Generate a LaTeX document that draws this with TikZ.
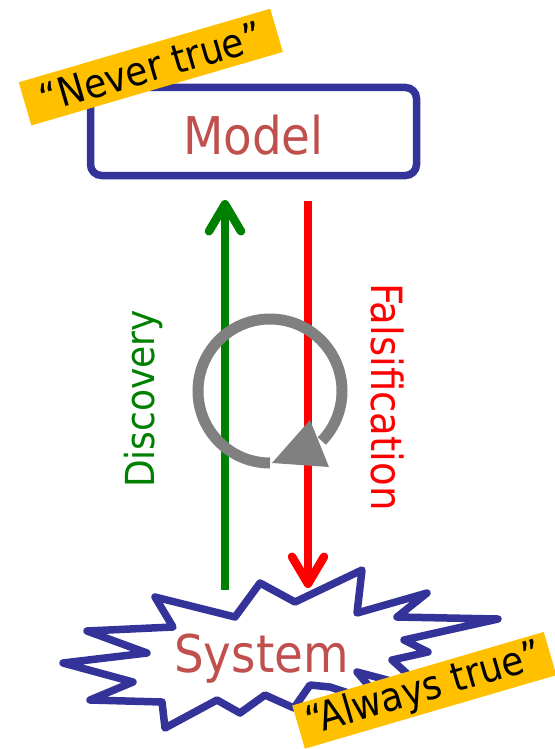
\documentclass[tikz,border=0pt]{standalone}
\usepackage{fontspec}
\setmainfont{DejaVu Sans Condensed}
\usetikzlibrary{arrows.meta}
\definecolor{boxblue}{HTML}{333399}
\definecolor{txtred}{HTML}{C0504D}
\definecolor{gold}{HTML}{FFC000}
\definecolor{dgreen}{HTML}{008000}
\definecolor{cgray}{HTML}{808080}
\begin{document}
\begin{tikzpicture}[x=1pt,y=-1pt,
  modelbox/.style={draw=boxblue,line width=7.5pt,rounded corners=11pt,minimum width=326pt,minimum height=88pt,text=txtred,font=\fontsize{52}{60}\selectfont,text height=45pt,text depth=0pt,inner sep=0pt},
  systext/.style={text=txtred,font=\fontsize{52}{60}\selectfont,inner sep=0pt,text height=38pt,text depth=0pt},
  tag/.style={fill=gold,minimum width=262pt,minimum height=45pt,inner sep=0pt,font=\fontsize{40}{48}\selectfont,rotate=16.3},
  flow/.style={line width=8.5pt,-{Straight Barb[length=27pt,width=32pt,round]}},
  burst/.style={draw=boxblue,line width=7.5pt,line join=round},
  sidelabel/.style={inner sep=0pt}]
\useasboundingbox (0,0) rectangle (554,749);
% model
\node[modelbox] (model) at (253.5,131.5) {Model};
% system starburst
\draw[burst] (155,597) -- (235,617) -- (260,583) -- (295,602) -- (362,570) -- (357,613) -- (427,593) -- (397,617) -- (498,619) -- (404,640) -- (428,652) -- (392,660) -- (425,690) -- (357,672) -- (385,705) -- (330,687) -- (310,685) -- (294,708) -- (265,695) -- (240,713) -- (217,700) -- (165,728) -- (162,702) -- (90,700) -- (133,682) -- (63,663) -- (147,653) -- (87,631) -- (173,627) -- cycle;
\node[systext] (system) at (261.5,653) {System};
% arrows
\coordinate (dstart) at (225,590);
\coordinate (dend) at (225,200);
\coordinate (fstart) at (308,201);
\coordinate (fend) at (308,588);
\draw[flow,dgreen] (dstart) -- (dend);
\draw[flow,red] (fstart) -- (fend);
\node[sidelabel,rotate=90,text=dgreen,font=\fontsize{40}{48}\selectfont] (disc) at (143,399) {Discovery};
\node[sidelabel,rotate=-90,text=red,font=\fontsize{43}{50}\selectfont] (fals) at (388,397) {Falsification};
% cycle arrow
\draw[cgray,line width=11pt] (270,391) ++(90:72) arc[start angle=90,end angle=404,radius=72];
\fill[cgray] (310,420) -- (329,467) -- (272,463) -- cycle;
% tags
\node[tag] (never) at (150.8,67.1) {“Never true”};
\node[tag] (always) at (424.3,690.3) {“Always true”};
\end{tikzpicture}
\end{document}
